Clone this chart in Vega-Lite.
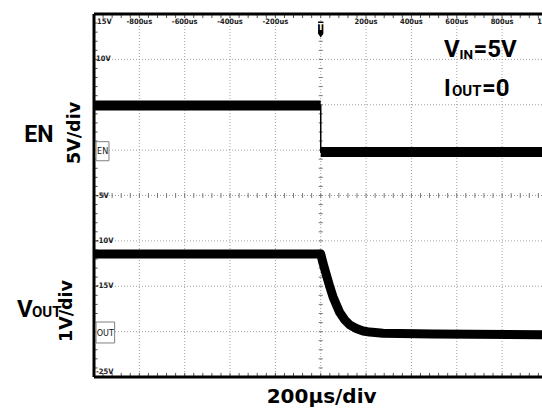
{
  "$schema": "https://vega.github.io/schema/vega-lite/v6.json",
  "width": 448,
  "height": 363,
  "autosize": {"type": "none"},
  "padding": {"left": 94, "top": 14, "right": 0, "bottom": 34},
  "background": "white",
  "config": {"view": {"stroke": null}},
  "data": {"values": [{}]},
  "datasets": {
    "gridT": [{"t": -800}, {"t": -600}, {"t": -400}, {"t": -200}, {"t": 0}, {"t": 200}, {"t": 400}, {"t": 600}, {"t": 800}],
    "gridV": [{"v": 10}, {"v": 5}, {"v": 0}, {"v": -5}, {"v": -10}, {"v": -15}, {"v": -20}],
    "timeLabels": [{"t": -800, "lab": "-800us"}, {"t": -600, "lab": "-600us"}, {"t": -400, "lab": "-400us"}, {"t": -200, "lab": "-200us"}, {"t": 200, "lab": "200us"}, {"t": 400, "lab": "400us"}, {"t": 600, "lab": "600us"}, {"t": 800, "lab": "800us"}, {"t": 990, "lab": "1ms"}],
    "voltLabels": [{"v": 10, "lab": "10V"}, {"v": -5, "lab": "-5V"}, {"v": -10, "lab": "-10V"}, {"v": -15, "lab": "-15V"}],
    "minorT": [{"t": -960}, {"t": -920}, {"t": -880}, {"t": -840}, {"t": -800}, {"t": -760}, {"t": -720}, {"t": -680}, {"t": -640}, {"t": -600}, {"t": -560}, {"t": -520}, {"t": -480}, {"t": -440}, {"t": -400}, {"t": -360}, {"t": -320}, {"t": -280}, {"t": -240}, {"t": -200}, {"t": -160}, {"t": -120}, {"t": -80}, {"t": -40}, {"t": 0}, {"t": 40}, {"t": 80}, {"t": 120}, {"t": 160}, {"t": 200}, {"t": 240}, {"t": 280}, {"t": 320}, {"t": 360}, {"t": 400}, {"t": 440}, {"t": 480}, {"t": 520}, {"t": 560}, {"t": 600}, {"t": 640}, {"t": 680}, {"t": 720}, {"t": 760}, {"t": 800}, {"t": 840}, {"t": 880}, {"t": 920}, {"t": 960}],
    "minorV": [{"v": -24}, {"v": -23}, {"v": -22}, {"v": -21}, {"v": -20}, {"v": -19}, {"v": -18}, {"v": -17}, {"v": -16}, {"v": -15}, {"v": -14}, {"v": -13}, {"v": -12}, {"v": -11}, {"v": -10}, {"v": -9}, {"v": -8}, {"v": -7}, {"v": -6}, {"v": -5}, {"v": -4}, {"v": -3}, {"v": -2}, {"v": -1}, {"v": 0}, {"v": 1}, {"v": 2}, {"v": 3}, {"v": 4}, {"v": 5}, {"v": 6}, {"v": 7}, {"v": 8}, {"v": 9}, {"v": 10}, {"v": 11}, {"v": 12}, {"v": 13}, {"v": 14}],
    "en": [
      {"t": -1000, "v": 4.92, "ph": "high"},
      {"t": 0, "v": 4.92, "ph": "high"},
      {"t": 0, "v": -0.2, "ph": "low"},
      {"t": 976, "v": -0.2, "ph": "low"}
    ],
    "vout": [
      {"t": -1000, "v": 1.71}, {"t": 0, "v": 1.71}, {"t": 10, "v": 1.51}, {"t": 25, "v": 1.25},
      {"t": 40, "v": 0.99}, {"t": 54, "v": 0.77}, {"t": 69, "v": 0.59}, {"t": 84, "v": 0.42},
      {"t": 106, "v": 0.26}, {"t": 128, "v": 0.15}, {"t": 157, "v": 0.07}, {"t": 187, "v": 0.015},
      {"t": 216, "v": -0.01}, {"t": 275, "v": -0.035}, {"t": 496, "v": -0.05}, {"t": 976, "v": -0.07}
    ]
  },
  "layer": [
    {
      "layer": [
        {
          "data": {"name": "gridT"},
          "mark": {"type": "rule", "color": "#a0a0a0", "strokeDash": [1, 2], "strokeWidth": 1},
          "encoding": {
            "x": {"field": "t", "type": "quantitative", "scale": {"domain": [-1000, 976], "nice": false, "zero": false}, "axis": null}
          }
        },
        {
          "data": {"name": "gridV"},
          "mark": {"type": "rule", "color": "#a0a0a0", "strokeDash": [1, 2], "strokeWidth": 1},
          "encoding": {
            "y": {"field": "v", "type": "quantitative", "scale": {"domain": [-25, 15], "nice": false, "zero": false}, "axis": null}
          }
        },
        {
          "data": {"name": "minorT"},
          "mark": {"type": "rule", "color": "#555", "strokeWidth": 1},
          "encoding": {
            "x": {"field": "t", "type": "quantitative", "scale": {"domain": [-1000, 976], "nice": false, "zero": false}, "axis": null},
            "y": {"datum": 15, "type": "quantitative", "scale": {"domain": [-25, 15], "nice": false, "zero": false}, "axis": null},
            "y2": {"datum": 14.55}
          }
        },
        {
          "data": {"name": "minorT"},
          "mark": {"type": "rule", "color": "#555", "strokeWidth": 1},
          "encoding": {
            "x": {"field": "t", "type": "quantitative", "scale": {"domain": [-1000, 976], "nice": false, "zero": false}, "axis": null},
            "y": {"datum": -25, "type": "quantitative", "scale": {"domain": [-25, 15], "nice": false, "zero": false}, "axis": null},
            "y2": {"datum": -24.55}
          }
        },
        {
          "data": {"name": "minorT"},
          "mark": {"type": "rule", "color": "#777", "strokeWidth": 1},
          "encoding": {
            "x": {"field": "t", "type": "quantitative", "scale": {"domain": [-1000, 976], "nice": false, "zero": false}, "axis": null},
            "y": {"datum": -5.27, "type": "quantitative", "scale": {"domain": [-25, 15], "nice": false, "zero": false}, "axis": null},
            "y2": {"datum": -4.73}
          }
        },
        {
          "data": {"name": "minorV"},
          "mark": {"type": "rule", "color": "#555", "strokeWidth": 1},
          "encoding": {
            "y": {"field": "v", "type": "quantitative", "scale": {"domain": [-25, 15], "nice": false, "zero": false}, "axis": null},
            "x": {"datum": -1000, "type": "quantitative", "scale": {"domain": [-1000, 976], "nice": false, "zero": false}, "axis": null},
            "x2": {"datum": -984}
          }
        },
        {
          "data": {"name": "minorV"},
          "mark": {"type": "rule", "color": "#777", "strokeWidth": 1},
          "encoding": {
            "y": {"field": "v", "type": "quantitative", "scale": {"domain": [-25, 15], "nice": false, "zero": false}, "axis": null},
            "x": {"datum": -9, "type": "quantitative", "scale": {"domain": [-1000, 976], "nice": false, "zero": false}, "axis": null},
            "x2": {"datum": 9}
          }
        },
        {
          "mark": {"type": "rule", "color": "black", "strokeWidth": 3},
          "encoding": {"y": {"datum": 15, "type": "quantitative", "scale": {"domain": [-25, 15], "nice": false, "zero": false}, "axis": null}}
        },
        {
          "mark": {"type": "rule", "color": "black", "strokeWidth": 3},
          "encoding": {"y": {"datum": -25, "type": "quantitative", "scale": {"domain": [-25, 15], "nice": false, "zero": false}, "axis": null}}
        },
        {
          "mark": {"type": "rule", "color": "black", "strokeWidth": 3},
          "encoding": {"x": {"datum": -1000, "type": "quantitative", "scale": {"domain": [-1000, 976], "nice": false, "zero": false}, "axis": null}}
        },
        {
          "data": {"name": "timeLabels"},
          "mark": {"type": "text", "font": "DejaVu Sans Condensed, sans-serif", "fontWeight": "bold", "fontSize": 7.5, "align": "center", "baseline": "bottom", "dy": 12, "color": "#222"},
          "encoding": {
            "x": {"field": "t", "type": "quantitative", "scale": {"domain": [-1000, 976], "nice": false, "zero": false}, "axis": null},
            "y": {"datum": 15, "type": "quantitative", "scale": {"domain": [-25, 15], "nice": false, "zero": false}, "axis": null},
            "text": {"field": "lab"}
          }
        },
        {
          "data": {"name": "voltLabels"},
          "mark": {"type": "text", "font": "DejaVu Sans Condensed, sans-serif", "fontWeight": "bold", "fontSize": 7.5, "align": "left", "baseline": "middle", "dx": 2, "color": "#222"},
          "encoding": {
            "x": {"datum": -1000, "type": "quantitative", "scale": {"domain": [-1000, 976], "nice": false, "zero": false}, "axis": null},
            "y": {"field": "v", "type": "quantitative", "scale": {"domain": [-25, 15], "nice": false, "zero": false}, "axis": null},
            "text": {"field": "lab"}
          }
        },
        {
          "mark": {"type": "text", "text": "15V", "font": "DejaVu Sans Condensed, sans-serif", "fontWeight": "bold", "fontSize": 7.5, "align": "left", "baseline": "bottom", "dx": 3, "dy": 12, "color": "#222"},
          "encoding": {
            "x": {"datum": -1000, "type": "quantitative", "scale": {"domain": [-1000, 976], "nice": false, "zero": false}, "axis": null},
            "y": {"datum": 15, "type": "quantitative", "scale": {"domain": [-25, 15], "nice": false, "zero": false}, "axis": null}
          }
        },
        {
          "mark": {"type": "text", "text": "-25V", "font": "DejaVu Sans Condensed, sans-serif", "fontWeight": "bold", "fontSize": 7.5, "align": "left", "baseline": "bottom", "dx": 2, "dy": -1, "color": "#222"},
          "encoding": {
            "x": {"datum": -1000, "type": "quantitative", "scale": {"domain": [-1000, 976], "nice": false, "zero": false}, "axis": null},
            "y": {"datum": -25, "type": "quantitative", "scale": {"domain": [-25, 15], "nice": false, "zero": false}, "axis": null}
          }
        },
        {
          "data": {"name": "en"},
          "mark": {"type": "line", "color": "black", "strokeWidth": 10, "strokeCap": "butt"},
          "encoding": {
            "x": {"field": "t", "type": "quantitative", "scale": {"domain": [-1000, 976], "nice": false, "zero": false}, "axis": null},
            "y": {"field": "v", "type": "quantitative", "scale": {"domain": [-25, 15], "nice": false, "zero": false}, "axis": null},
            "detail": {"field": "ph", "type": "nominal"}
          }
        },
        {
          "data": {"name": "en"},
          "mark": {"type": "line", "color": "black", "strokeWidth": 1.5},
          "encoding": {
            "x": {"field": "t", "type": "quantitative", "scale": {"domain": [-1000, 976], "nice": false, "zero": false}, "axis": null},
            "y": {"field": "v", "type": "quantitative", "scale": {"domain": [-25, 15], "nice": false, "zero": false}, "axis": null}
          }
        },
        {
          "mark": {"type": "rect", "fill": "white", "stroke": "#808080", "strokeWidth": 1},
          "encoding": {
            "x": {"datum": -991, "type": "quantitative", "scale": {"domain": [-1000, 976], "nice": false, "zero": false}, "axis": null},
            "x2": {"datum": -934},
            "y": {"datum": 0.93, "type": "quantitative", "scale": {"domain": [-25, 15], "nice": false, "zero": false}, "axis": null},
            "y2": {"datum": -1.17}
          }
        },
        {
          "mark": {"type": "text", "text": "EN", "font": "DejaVu Sans Condensed, sans-serif", "fontSize": 9, "align": "center", "baseline": "middle", "color": "#111"},
          "encoding": {
            "x": {"datum": -962, "type": "quantitative", "scale": {"domain": [-1000, 976], "nice": false, "zero": false}, "axis": null},
            "y": {"datum": -0.12, "type": "quantitative", "scale": {"domain": [-25, 15], "nice": false, "zero": false}, "axis": null}
          }
        },
        {
          "mark": {"type": "rect", "fill": "white", "stroke": "#808080", "strokeWidth": 1},
          "encoding": {
            "x": {"datum": -991, "type": "quantitative", "scale": {"domain": [-1000, 976], "nice": false, "zero": false}, "axis": null},
            "x2": {"datum": -909},
            "y": {"datum": -18.94, "type": "quantitative", "scale": {"domain": [-25, 15], "nice": false, "zero": false}, "axis": null},
            "y2": {"datum": -21.25}
          }
        },
        {
          "mark": {"type": "text", "text": "OUT", "font": "DejaVu Sans Condensed, sans-serif", "fontSize": 9, "align": "center", "baseline": "middle", "color": "#111"},
          "encoding": {
            "x": {"datum": -950, "type": "quantitative", "scale": {"domain": [-1000, 976], "nice": false, "zero": false}, "axis": null},
            "y": {"datum": -20.1, "type": "quantitative", "scale": {"domain": [-25, 15], "nice": false, "zero": false}, "axis": null}
          }
        },
        {
          "mark": {"type": "point", "shape": "M-0.33,-1L0.33,-1L0.33,0.55L0,1L-0.33,0.55Z", "size": 256, "filled": true, "color": "black", "opacity": 1},
          "encoding": {
            "x": {"datum": 0, "type": "quantitative", "scale": {"domain": [-1000, 976], "nice": false, "zero": false}, "axis": null},
            "y": {"datum": 13.3, "type": "quantitative", "scale": {"domain": [-25, 15], "nice": false, "zero": false}, "axis": null}
          }
        },
        {
          "mark": {"type": "text", "text": "T", "font": "DejaVu Sans", "fontWeight": "bold", "fontSize": 8, "align": "center", "baseline": "middle", "color": "white", "dy": -1},
          "encoding": {
            "x": {"datum": 0, "type": "quantitative", "scale": {"domain": [-1000, 976], "nice": false, "zero": false}, "axis": null},
            "y": {"datum": 13.3, "type": "quantitative", "scale": {"domain": [-25, 15], "nice": false, "zero": false}, "axis": null}
          }
        },
        {
          "mark": {"type": "text", "text": "EN", "font": "Roboto", "fontWeight": "bold", "fontSize": 23, "align": "center", "baseline": "alphabetic", "color": "black"},
          "encoding": {
            "x": {"datum": -1243, "type": "quantitative", "scale": {"domain": [-1000, 976], "nice": false, "zero": false}, "axis": null},
            "y": {"datum": 0.9, "type": "quantitative", "scale": {"domain": [-25, 15], "nice": false, "zero": false}, "axis": null}
          }
        },
        {
          "mark": {"type": "text", "text": "5V/div", "font": "DejaVu Sans", "fontWeight": "bold", "fontSize": 17.5, "align": "center", "baseline": "middle", "angle": 270, "color": "black"},
          "encoding": {
            "x": {"datum": -1084, "type": "quantitative", "scale": {"domain": [-1000, 976], "nice": false, "zero": false}, "axis": null},
            "y": {"datum": 1.89, "type": "quantitative", "scale": {"domain": [-25, 15], "nice": false, "zero": false}, "axis": null}
          }
        },
        {
          "mark": {"type": "text", "text": "V", "font": "Roboto", "fontWeight": "bold", "fontSize": 24, "align": "left", "baseline": "alphabetic", "color": "black"},
          "encoding": {
            "x": {"datum": -1340, "type": "quantitative", "scale": {"domain": [-1000, 976], "nice": false, "zero": false}, "axis": null},
            "y": {"datum": -18.39, "type": "quantitative", "scale": {"domain": [-25, 15], "nice": false, "zero": false}, "axis": null}
          }
        },
        {
          "mark": {"type": "text", "text": "OUT", "font": "Roboto", "fontWeight": "bold", "fontSize": 15, "align": "left", "baseline": "alphabetic", "dx": 15, "color": "black"},
          "encoding": {
            "x": {"datum": -1340, "type": "quantitative", "scale": {"domain": [-1000, 976], "nice": false, "zero": false}, "axis": null},
            "y": {"datum": -18.39, "type": "quantitative", "scale": {"domain": [-25, 15], "nice": false, "zero": false}, "axis": null}
          }
        },
        {
          "mark": {"type": "text", "text": "1V/div", "font": "DejaVu Sans", "fontWeight": "bold", "fontSize": 17.5, "align": "center", "baseline": "middle", "angle": 270, "color": "black"},
          "encoding": {
            "x": {"datum": -1121, "type": "quantitative", "scale": {"domain": [-1000, 976], "nice": false, "zero": false}, "axis": null},
            "y": {"datum": -17.73, "type": "quantitative", "scale": {"domain": [-25, 15], "nice": false, "zero": false}, "axis": null}
          }
        },
        {
          "mark": {"type": "text", "text": "V", "font": "Roboto", "fontWeight": "bold", "fontSize": 24, "align": "left", "baseline": "alphabetic", "color": "black"},
          "encoding": {
            "x": {"datum": 543.5, "type": "quantitative", "scale": {"domain": [-1000, 976], "nice": false, "zero": false}, "axis": null},
            "y": {"datum": 10.26, "type": "quantitative", "scale": {"domain": [-25, 15], "nice": false, "zero": false}, "axis": null}
          }
        },
        {
          "mark": {"type": "text", "text": "IN", "font": "Roboto", "fontWeight": "bold", "fontSize": 13.5, "align": "left", "baseline": "alphabetic", "dx": 15.5, "dy": 1.5, "color": "black"},
          "encoding": {
            "x": {"datum": 543.5, "type": "quantitative", "scale": {"domain": [-1000, 976], "nice": false, "zero": false}, "axis": null},
            "y": {"datum": 10.26, "type": "quantitative", "scale": {"domain": [-25, 15], "nice": false, "zero": false}, "axis": null}
          }
        },
        {
          "mark": {"type": "text", "text": "=5V", "font": "Roboto", "fontWeight": "bold", "fontSize": 24, "align": "left", "baseline": "alphabetic", "dx": 29.5, "color": "black"},
          "encoding": {
            "x": {"datum": 543.5, "type": "quantitative", "scale": {"domain": [-1000, 976], "nice": false, "zero": false}, "axis": null},
            "y": {"datum": 10.26, "type": "quantitative", "scale": {"domain": [-25, 15], "nice": false, "zero": false}, "axis": null}
          }
        },
        {
          "mark": {"type": "text", "text": "I", "font": "Roboto", "fontWeight": "bold", "fontSize": 23, "align": "left", "baseline": "alphabetic", "color": "black"},
          "encoding": {
            "x": {"datum": 543.5, "type": "quantitative", "scale": {"domain": [-1000, 976], "nice": false, "zero": false}, "axis": null},
            "y": {"datum": 5.95, "type": "quantitative", "scale": {"domain": [-25, 15], "nice": false, "zero": false}, "axis": null}
          }
        },
        {
          "mark": {"type": "text", "text": "OUT", "font": "Roboto", "fontWeight": "bold", "fontSize": 15, "align": "left", "baseline": "alphabetic", "dx": 8, "color": "black"},
          "encoding": {
            "x": {"datum": 543.5, "type": "quantitative", "scale": {"domain": [-1000, 976], "nice": false, "zero": false}, "axis": null},
            "y": {"datum": 5.95, "type": "quantitative", "scale": {"domain": [-25, 15], "nice": false, "zero": false}, "axis": null}
          }
        },
        {
          "mark": {"type": "text", "text": "=0", "font": "Roboto", "fontWeight": "bold", "fontSize": 24, "align": "left", "baseline": "alphabetic", "dx": 38, "color": "black"},
          "encoding": {
            "x": {"datum": 543.5, "type": "quantitative", "scale": {"domain": [-1000, 976], "nice": false, "zero": false}, "axis": null},
            "y": {"datum": 5.95, "type": "quantitative", "scale": {"domain": [-25, 15], "nice": false, "zero": false}, "axis": null}
          }
        },
        {
          "mark": {"type": "text", "text": "200µs/div", "font": "DejaVu Sans", "fontWeight": "bold", "fontSize": 20, "align": "center", "baseline": "alphabetic", "color": "black"},
          "encoding": {
            "x": {"datum": 4, "type": "quantitative", "scale": {"domain": [-1000, 976], "nice": false, "zero": false}, "axis": null},
            "y": {"datum": -27.92, "type": "quantitative", "scale": {"domain": [-25, 15], "nice": false, "zero": false}, "axis": null}
          }
        }
      ]
    },
    {
      "data": {"name": "vout"},
      "mark": {"type": "line", "color": "black", "strokeWidth": 9, "strokeJoin": "round", "strokeCap": "butt"},
      "encoding": {
        "x": {"field": "t", "type": "quantitative", "scale": {"domain": [-1000, 976], "nice": false, "zero": false}, "axis": null},
        "y": {"field": "v", "type": "quantitative", "scale": {"domain": [-1, 7], "nice": false, "zero": false}, "axis": null}
      }
    }
  ],
  "resolve": {"scale": {"y": "independent"}}
}
